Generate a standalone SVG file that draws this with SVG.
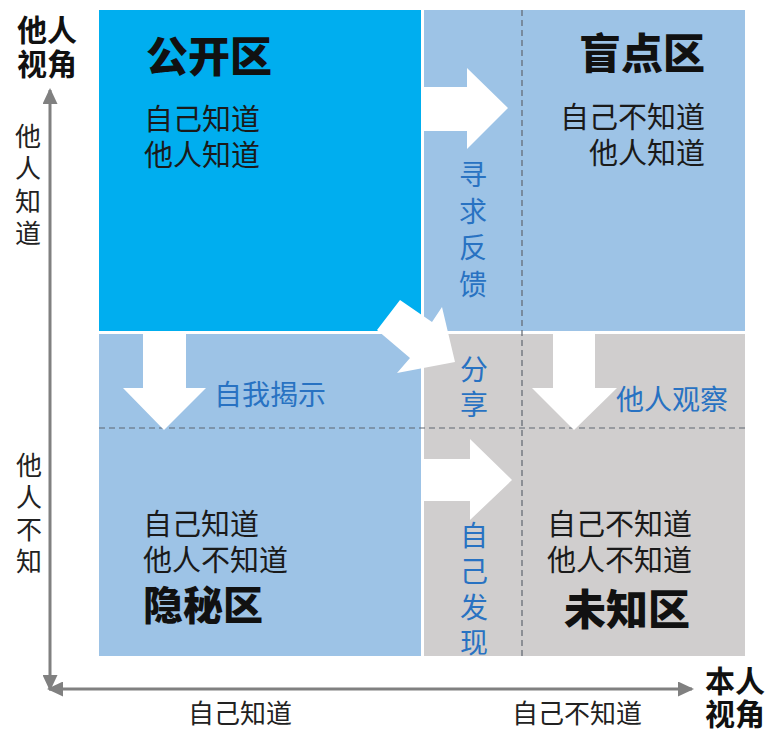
<svg xmlns="http://www.w3.org/2000/svg" width="768" height="730" viewBox="0 0 768 730">
<style>
text{font-family:"Noto Sans CJK SC","Noto Sans",sans-serif;}
.title{font-size:42px;font-weight:900;fill:#111;}
.sub{font-size:29px;font-weight:400;fill:#1a1a1a;}
.act{font-size:28px;font-weight:400;fill:#2872c2;}
.axl{font-size:30px;font-weight:700;fill:#111;}
.axs{font-size:26px;font-weight:400;fill:#222;}
.dash{stroke:#5f6670;stroke-width:1.2;stroke-dasharray:6 4;fill:none;}
.arw{fill:#ffffff;}
.axis{stroke:#808080;stroke-width:3;fill:none;}
</style>
<defs>
<marker id="ah" markerUnits="userSpaceOnUse" markerWidth="16" markerHeight="15" refX="14" refY="7.5" orient="auto-start-reverse">
<path d="M0,0 L16,7.5 L0,15 z" fill="#808080"/>
</marker>
</defs>
<rect x="0" y="0" width="768" height="730" fill="#ffffff"/>

<g id="open-area">
<rect x="99" y="10" width="322" height="321" fill="#00aeef"/>
<text class="title" x="146" y="72">公开区</text>
<text class="sub" x="144" y="130">自己知道</text>
<text class="sub" x="144" y="166">他人知道</text>
</g>

<g id="blind-area">
<rect x="424" y="10" width="321" height="321" fill="#9dc3e6"/>
<text class="title" x="705" y="69" text-anchor="end">盲点区</text>
<text class="sub" x="705" y="128" text-anchor="end">自己不知道</text>
<text class="sub" x="705" y="164" text-anchor="end">他人知道</text>
</g>

<g id="hidden-area">
<rect x="99" y="334" width="322" height="322" fill="#9dc3e6"/>
<text class="sub" x="143" y="535">自己知道</text>
<text class="sub" x="143" y="571">他人不知道</text>
<text class="title" x="143" y="620" style="font-size:40px">隐秘区</text>
</g>

<g id="unknown-area">
<rect x="424" y="334" width="321" height="322" fill="#d0cece"/>
<text class="sub" x="692" y="535" text-anchor="end">自己不知道</text>
<text class="sub" x="692" y="571" text-anchor="end">他人不知道</text>
<text class="title" x="690" y="625" text-anchor="end">未知区</text>
</g>

<g id="grid-dashes">
<line class="dash" x1="522" y1="10" x2="522" y2="656"/>
<line class="dash" x1="99" y1="428" x2="745" y2="428"/>
</g>

<g id="connectors">
<polygon class="arw" points="424,87 467,87 467,68 508,108 467,149 467,131 424,131"/>
<polygon class="arw" points="143,331 186,331 186,388 206,388 164,430 123,388 143,388"/>
<polygon class="arw" points="553,331 595,331 595,388 617,388 574,430 532,388 553,388"/>
<polygon class="arw" points="421,459 470,459 470,439 512,480 470,520 470,501 421,501"/>
<polygon class="arw" points="400,300 432,322 442,307 455,362 397,373 410,358 377,330"/>
</g>

<g id="action-labels">
<text class="act" text-anchor="middle" x="473" y="185">寻</text>
<text class="act" text-anchor="middle" x="473" y="222">求</text>
<text class="act" text-anchor="middle" x="473" y="258">反</text>
<text class="act" text-anchor="middle" x="473" y="295">馈</text>
<text class="act" x="214" y="405">自我揭示</text>
<text class="act" text-anchor="middle" x="474" y="380">分</text>
<text class="act" text-anchor="middle" x="474" y="415">享</text>
<text class="act" x="616" y="410">他人观察</text>
<text class="act" text-anchor="middle" x="474" y="546">自</text>
<text class="act" text-anchor="middle" x="474" y="582">己</text>
<text class="act" text-anchor="middle" x="474" y="618">发</text>
<text class="act" text-anchor="middle" x="474" y="653">现</text>
</g>

<g id="axes">
<line class="axis" x1="50" y1="90" x2="50" y2="689" marker-start="url(#ah)" marker-end="url(#ah)"/>
<line class="axis" x1="49" y1="689" x2="692" y2="689" marker-start="url(#ah)" marker-end="url(#ah)"/>
<text class="axl" x="17" y="41">他人</text>
<text class="axl" x="17" y="75">视角</text>
<text class="axl" x="705" y="692">本人</text>
<text class="axl" x="705" y="725">视角</text>
<text class="axs" text-anchor="middle" x="28" y="146">他</text>
<text class="axs" text-anchor="middle" x="28" y="178">人</text>
<text class="axs" text-anchor="middle" x="28" y="211">知</text>
<text class="axs" text-anchor="middle" x="28" y="243">道</text>
<text class="axs" text-anchor="middle" x="29" y="475">他</text>
<text class="axs" text-anchor="middle" x="29" y="507">人</text>
<text class="axs" text-anchor="middle" x="29" y="539">不</text>
<text class="axs" text-anchor="middle" x="29" y="571">知</text>
<text class="axs" text-anchor="middle" x="240" y="723">自己知道</text>
<text class="axs" text-anchor="middle" x="577" y="723">自己不知道</text>
</g>
</svg>
